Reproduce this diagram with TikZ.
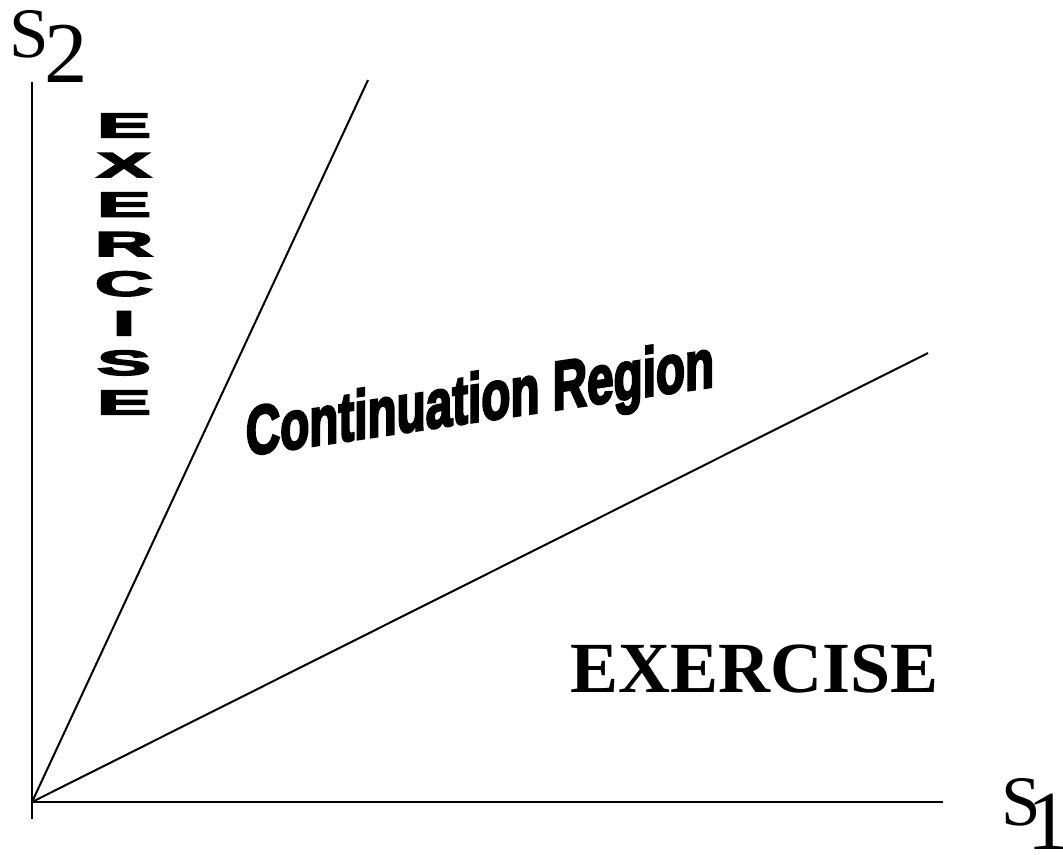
\documentclass[tikz,border=0pt]{standalone}
\usepackage{fontspec}
\setmainfont{Liberation Serif}
\newfontfamily\heavy{Liberation Sans}[BoldFeatures={FakeBold=4}]
\begin{document}
\begin{tikzpicture}[x=0.75pt,y=-0.75pt,
  axis/.style={line width=1.6pt},
  bound/.style={line width=1.5pt},
  vlet/.style={inner sep=0pt,font=\heavy\bfseries\fontsize{26.25}{26.25}\selectfont},
  lbl/.style={inner sep=0pt}]
\useasboundingbox (0,0) rectangle (1063,854);
\coordinate (O) at (32,802);
\coordinate (ytop) at (32,82);
\coordinate (ybot) at (32,819);
\coordinate (xend) at (943,802);
\coordinate (b1) at (368,80);
\coordinate (b2) at (928,353);
\draw[axis] (ybot) -- (ytop);
\draw[axis] (O) -- (xend);
\draw[bound] (O) -- (b1);
\draw[bound] (O) -- (b2);
% axis labels
\node[lbl,anchor=base west,font=\fontsize{53.25}{53.25}\selectfont] (s2) at (9,57)
  {S\kern-3pt\raisebox{-18.75pt}{\fontsize{65}{65}\selectfont 2}};
\node[lbl,anchor=base west,font=\fontsize{53.25}{53.25}\selectfont] (s1) at (1001,825)
  {S\kern-10pt\raisebox{-18pt}{\fontsize{63}{63}\selectfont 1}};
% vertical EXERCISE
\foreach \l [count=\i] in {E,X,E,R,C,I,S,E}
  \node[vlet] (ex\i) at (124,{125.5+39.57*(\i-1)}) {\scalebox{2.3}[1]{\l}};
% continuation region
\node[lbl,anchor=base,yslant=0.148,font=\heavy\bfseries\fontsize{47}{47}\selectfont] (cont) at (480,421)
  {\scalebox{0.76}[1.1]{Continuation Region}};
% bottom EXERCISE
\node[lbl,anchor=base,font=\bfseries\fontsize{54}{54}\selectfont] (exb) at (755,692) {EXERCISE};
\end{tikzpicture}
\end{document}
